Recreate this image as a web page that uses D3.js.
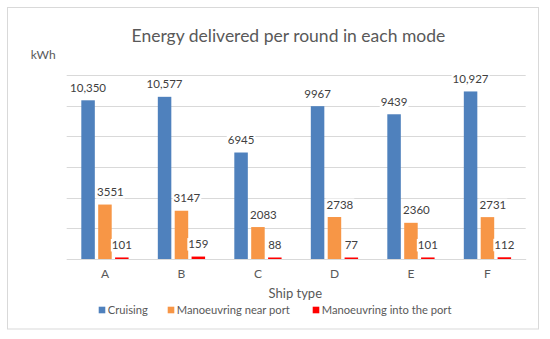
<!DOCTYPE html>
<html>
<head>
<meta charset="utf-8">
<script src="https://d3js.org/d3.v7.min.js"></script>
<style>
* { padding: 0px; margin: 0px; }
body { background: #fff; }
svg { font-family: Lato, 'Open Sans', sans-serif; }
</style>
</head>
<body>
<svg width="550" height="339"></svg>
<script>
let ships = ["A", "B", "C", "D", "E", "F"]
let modes = ["Cruising", "Manoeuvring near port", "Manoeuvring into the port"]
let cruising = [10350, 10577, 6945, 9967, 9439, 10927]
let nearPort = [3551, 3147, 2083, 2738, 2360, 2731]
let intoPort = [101, 159, 88, 77, 101, 112]
let labels = [
    ["10,350", "10,577", "6945", "9967", "9439", "10,927"],
    ["3551", "3147", "2083", "2738", "2360", "2731"],
    ["101", "159", "88", "77", "101", "112"]
]
let yTicks = [0, 2000, 4000, 6000, 8000, 10000, 12000]
let colors = ["#4f81bd", "#f79646", "#ff0000"]

let series = [cruising, nearPort, intoPort]
// the orange labels were nudged right in the original
let labelShift = [0, 5.5, 0]

let svg = d3.select("svg")

// chart frame
svg.append("rect")
    .attr("x", 7.5).attr("y", 7.5)
    .attr("width", 531).attr("height", 321.5)
    .attr("fill", "#fff")
    .attr("stroke", "#d9d9d9")

let x0 = d3.scaleBand().domain(ships).range([66.7, 525.7])
    .paddingInner(0.382).paddingOuter(0.191)
let x1 = d3.scaleBand().domain(d3.range(3)).range([0, x0.bandwidth()])
    .paddingInner(0.2)
let y = d3.scaleLinear().domain([0, 12000]).range([259, 75])

// gridlines
svg.append("g")
    .selectAll("line")
    .data(yTicks)
    .join("line")
    .attr("x1", 66.7).attr("x2", 525.7)
    .attr("y1", d => Math.round(y(d)) + 0.5)
    .attr("y2", d => Math.round(y(d)) + 0.5)
    .attr("stroke", "#d9d9d9")
    .attr("stroke-width", 1)

// bars
let groups = svg.append("g")
    .selectAll("g")
    .data(ships)
    .join("g")
    .attr("transform", d => "translate(" + x0(d) + ",0)")

let rows = (d, i) => series.map((s, j) => ({j: j, v: s[i], label: labels[j][i]}))

groups.selectAll("rect")
    .data(rows)
    .join("rect")
    .attr("x", d => x1(d.j))
    .attr("width", x1.bandwidth())
    .attr("y", d => Math.min(y(d.v), y(0) - 1.5))
    .attr("height", d => Math.max(y(0) - y(d.v), 1.5))
    .attr("fill", d => colors[d.j])

// value labels sit on a white box, so gridlines stop behind them
let lab = groups.selectAll("g.lab")
    .data(rows)
    .join("g")
    .attr("class", "lab")
    .attr("transform", d => "translate(" + (x1(d.j) + x1.bandwidth() / 2 + labelShift[d.j]) + "," + (y(d.v) - 8.5) + ")")
lab.append("text")
    .attr("text-anchor", "middle")
    .attr("font-size", "11.5px")
    .attr("fill", "#404040")
    .text(d => d.label)
lab.each(function () {
    let t = d3.select(this).select("text")
    let w = t.node().getComputedTextLength()
    d3.select(this).insert("rect", "text")
        .attr("x", -w / 2 - 1).attr("y", -10)
        .attr("width", w + 2).attr("height", 12.5)
        .attr("fill", "#fff")
})

// x axis
let xAxis = svg.append("g")
    .attr("transform", "translate(0," + y(0) + ")")
    .call(d3.axisBottom(x0).tickSize(0).tickPadding(10.5))
xAxis.select(".domain").attr("stroke", "#d9d9d9")
xAxis.selectAll("text")
    .attr("font-family", "Lato, 'Open Sans', sans-serif")
    .attr("font-size", "12px")
    .attr("fill", "#595959")

// title and axis titles
svg.append("text")
    .attr("x", 288.4).attr("y", 42)
    .attr("text-anchor", "middle")
    .attr("font-size", "17.5px")
    .attr("fill", "#595959")
    .text("Energy delivered per round in each mode")

svg.append("text")
    .attr("x", 30.7).attr("y", 59)
    .attr("font-size", "12px")
    .attr("fill", "#595959")
    .text("kWh")

svg.append("text")
    .attr("x", 295.3).attr("y", 298.3)
    .attr("text-anchor", "middle")
    .attr("font-size", "13px")
    .attr("fill", "#595959")
    .text("Ship type")

// legend
let legendX = [98.7, 167.7, 312.7]
let legend = svg.append("g")
    .selectAll("g")
    .data(modes)
    .join("g")
    .attr("transform", (d, i) => "translate(" + legendX[i] + ",306.7)")
legend.append("rect")
    .attr("width", 6.6).attr("height", 6.6)
    .attr("fill", (d, i) => colors[i])
legend.append("text")
    .attr("x", 9).attr("y", 6.8)
    .attr("font-size", "11.2px")
    .attr("fill", "#595959")
    .text(d => d)
</script>
</body>
</html>
